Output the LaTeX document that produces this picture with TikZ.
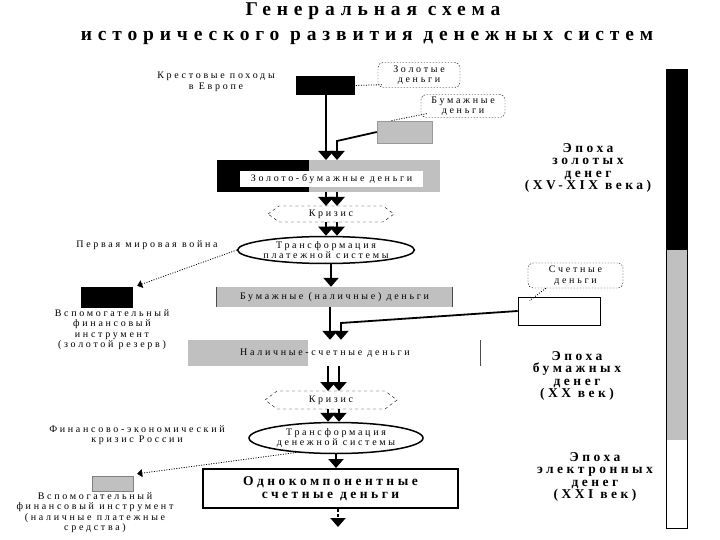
\documentclass[tikz,border=0pt]{standalone}
\usepackage{fontspec}
\setmainfont{Liberation Serif}
\newfontfamily\lblfont[LetterSpace=27]{Liberation Serif}
\newfontfamily\hdfont[LetterSpace=26]{Liberation Serif}
\newfontfamily\ttlfont[LetterSpace=30]{Liberation Serif}
\usetikzlibrary{arrows.meta,shapes.geometric,calc}
\definecolor{mygray}{RGB}{192,192,192}
\begin{document}
\begin{tikzpicture}[x=1pt,y=-1pt,
  lbl/.style={font=\lblfont\fontsize{10}{10.5}\selectfont, align=center, inner sep=1pt},
  hd/.style={font=\hdfont\bfseries\fontsize{13.5}{12.5}\selectfont, align=center, inner sep=1pt},
  ttl/.style={font=\ttlfont\bfseries\fontsize{19.5}{18}\selectfont, inner sep=0pt, anchor=base},
  callout/.style={draw, dash pattern=on 1.5pt off 1.5pt, rounded corners=5pt, inner sep=0pt, lbl},
  dot/.style={dash pattern=on 1pt off 1.5pt, line width=0.8pt},
  heavy/.style={line width=2.6pt, -{Triangle[width=15pt,length=9pt]}},
  med/.style={line width=1.8pt, -{Triangle[width=15pt,length=9pt]}},
  ptr/.style={dot, -{Triangle[width=8pt,length=5pt]}},
  blk/.style={fill=black, inner sep=0pt},
]
\useasboundingbox (0,0) rectangle (720,540);
\fill[white] (0,0) rectangle (720,540);

% title
\node[ttl] (t1) at (373,16) {Генеральная схема};
\node[ttl] (t2) at (367,41) {исторического развития денежных систем};

% top part
\node[lbl] (cru) at (216,82) {Крестовые походы\\в Европе};
\node[blk, minimum width=59, minimum height=19] (gold) at (325.5,85.5) {};
\node[callout, minimum width=82, minimum height=25] (cg) at (419,75) {Золотые\\деньги};
\draw[dot] ($(cg.south west)+(4,-3)$) -- (gold.east);
\node[callout, minimum width=84, minimum height=23] (cp) at (463,106) {Бумажные\\деньги};
\node[fill=mygray, draw=black!40, minimum width=55, minimum height=22, inner sep=0] (paper) at (404.5,132) {};
\draw[dot] ($(cp.south west)+(6,-4)$) -- ($(paper.north west)+(14,0)$);

\coordinate (a1) at (326,160);
\coordinate (a2) at (337,160);
\coordinate (b1) at (337,141);
\draw[heavy] (gold.south -| a1) -- (a1);
\draw[med] (paper.west) -- (b1) -- (a2);

% gold-paper box
\node[minimum width=223, minimum height=32, inner sep=0] (zb) at (328.5,176) {};
\fill[black] (zb.north west) rectangle ($(zb.south west)+(92,0)$);
\fill[mygray] ($(zb.north west)+(92,0)$) rectangle (zb.south east);
\node[lbl, fill=white, minimum width=183, minimum height=16, inner sep=0] (zbl) at (331.5,179) {Золото-бумажные деньги};

% crisis 1
\node[lbl] (cr1) at (331,214) {Кризис};
\draw[dashed] ($(cr1)+(-63,0)$) -- ($(cr1)+(-52,-8)$) -- ($(cr1)+(52,-8)$) -- ($(cr1)+(63,0)$) -- ($(cr1)+(52,8)$) -- ($(cr1)+(-52,8)$) -- cycle;
\draw[heavy] (zb.south -| a1) -- ($(cr1.center -| a1)+(0,-8)$);
\draw[heavy] (zb.south -| a2) -- ($(cr1.center -| a2)+(0,-8)$);

% ellipse 1
\node[ellipse, draw, line width=1.5pt, minimum width=172, minimum height=27, lbl, inner sep=0] (el1) at (326,250) {Трансформация\\платежной системы};
\draw[heavy] ($(cr1.center -| a1)+(0,8)$) -- (el1.north -| a1);
\draw[heavy] ($(cr1.center -| a2)+(0,8)$) -- (el1.north -| a2);

\node[lbl] (ww1) at (147,245) {Первая мировая война};
\node[blk, minimum width=52, minimum height=21] (res) at (107,297.5) {};
\node[lbl, anchor=north] (resl) at (112,308) {Вспомогательный\\финансовый\\инструмент\\(золотой резерв)};
\draw[ptr] (el1.west) -- ($(res.north east)+(4,-1)$);

% paper cash
\node[fill=mygray, minimum width=235, minimum height=20, inner sep=0, lbl] (pn) at (334.5,297) {Бумажные (наличные) деньги};
\draw[black!70, line width=0.8pt] (pn.north west) -- (pn.south west) (pn.north east) -- (pn.south east);
\coordinate (a3) at (331,0);
\draw[heavy] (el1.south -| a3) -- (pn.north -| a3);

% account money
\node[draw, line width=0.6pt, minimum width=82, minimum height=28, inner sep=0] (acc) at (559,311) {};
\node[callout, minimum width=95, minimum height=25] (ca) at (575.5,275.5) {Счетные\\деньги};
\draw[dot] ($(ca.south west)+(18,0)$) -- ($(acc.north west)+(12,4)$);

% cash-account box
\node[minimum width=292, minimum height=26, inner sep=0] (nal) at (334,353) {};
\fill[mygray] (nal.north west) rectangle ($(nal.south west)+(120,0)$);
\draw[black!70, line width=0.8pt] (nal.north east) -- (nal.south east);
\node[lbl] (nall) at (325,353) {Наличные-счетные деньги};

\coordinate (a4) at (330,0);
\coordinate (a5) at (341,0);
\coordinate (b2) at (341,323);
\draw[heavy] (pn.south -| a4) -- (nal.north -| a4);
\draw[med] (acc.west) -- (b2) -- (nal.north -| a5);

% crisis 2
\node[lbl] (cr2) at (331,400) {Кризис};
\draw[dashed] ($(cr2)+(-66,0)$) -- ($(cr2)+(-54,-9)$) -- ($(cr2)+(54,-9)$) -- ($(cr2)+(66,0)$) -- ($(cr2)+(54,9)$) -- ($(cr2)+(-54,9)$) -- cycle;
\coordinate (a6) at (328,0);
\coordinate (a7) at (339,0);
\draw[heavy] (nal.south -| a6) -- ($(cr2.center -| a6)+(0,-9)$);
\draw[heavy] (nal.south -| a7) -- ($(cr2.center -| a7)+(0,-9)$);

% ellipse 2
\node[ellipse, draw, line width=1.5pt, minimum width=174, minimum height=31, lbl, inner sep=0] (el2) at (336,438) {Трансформация\\денежной системы};
\draw[heavy] ($(cr2.center -| a6)+(0,9)$) -- (el2.north -| a6);
\draw[heavy] ($(cr2.center -| a7)+(0,9)$) -- (el2.north -| a7);

\node[lbl] (fin) at (137,435) {Финансово-экономический\\кризис России};
\node[fill=mygray, draw=black!50, minimum width=41, minimum height=15, inner sep=0] (cash) at (112.5,483.5) {};
\node[lbl, anchor=north] (cashl) at (95,491) {Вспомогательный\\финансовый инструмент\\(наличные платежные\\средства)};
\draw[ptr] (el2.200) -- ($(cash.north east)+(4,-2)$);

% final box
\node[draw, line width=2pt, minimum width=255, minimum height=39, hd, inner sep=0] (odno) at (330.5,488.5) {Однокомпонентные\\счетные деньги};
\draw[heavy] (el2.south) -- (odno.north -| el2.south);
\coordinate (fin2) at (338,527);
\draw[line width=2.6pt, dash pattern=on 3pt off 2pt, -{Triangle[width=15pt,length=9pt]}] (odno.south -| fin2) -- (fin2);

% right bar
\path node[minimum width=20, minimum height=458, inner sep=0] (bar) at (677,299) {};
\fill[black] (bar.north west) rectangle ($(bar.north east)+(0,180)$);
\fill[mygray] ($(bar.north west)+(0,180)$) rectangle ($(bar.north east)+(0,370)$);
\draw[line width=1pt] (bar.north west) rectangle (bar.south east);

% epochs
\node[hd] (e1) at (588,168) {Эпоха\\золотых\\денег\\(XV-XIX века)};
\node[hd] (e2) at (577,376) {Эпоха\\бумажных\\денег\\(XX век)};
\node[hd] (e3) at (595,477) {Эпоха\\электронных\\денег\\(XXI век)};
\end{tikzpicture}
\end{document}
